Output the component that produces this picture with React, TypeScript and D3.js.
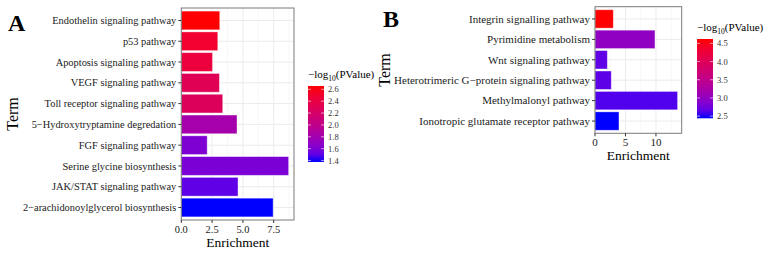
import React from "react";
import { scaleBand, scaleLinear, interpolateLab, range } from "d3";

// Panel A: PANTHER pathways, top to bottom
const termsA = [
  "Endothelin signaling pathway",
  "p53 pathway",
  "Apoptosis signaling pathway",
  "VEGF signaling pathway",
  "Toll receptor signaling pathway",
  "5\u2212Hydroxytryptamine degredation",
  "FGF signaling pathway",
  "Serine glycine biosynthesis",
  "JAK/STAT signaling pathway",
  "2\u2212arachidonoylglycerol biosynthesis",
];
const enrichA = [3.12, 2.96, 2.53, 3.09, 3.36, 4.52, 2.1, 8.71, 4.6, 7.45];
const logPA = [2.656, 2.5, 2.43, 2.31, 2.27, 1.82, 1.61, 1.59, 1.5, 1.376];
const xTicksA = [0, 2.5, 5, 7.5];
const legendTicksA = [1.4, 1.6, 1.8, 2.0, 2.2, 2.4, 2.6];

// Panel B
const termsB = [
  "Integrin signalling pathway",
  "Pyrimidine metabolism",
  "Wnt signaling pathway",
  "Heterotrimeric G\u2212protein signaling pathway",
  "Methylmalonyl pathway",
  "Ionotropic glutamate receptor pathway",
];
const enrichB = [3.0, 9.84, 2.02, 2.67, 13.55, 3.93];
const logPB = [4.62, 2.98, 2.66, 2.64, 2.59, 2.44];
const xTicksB = [0, 5, 10];
const legendTicksB = [2.5, 3.0, 3.5, 4.0, 4.5];

const FONT = "Liberation Serif";
const LOW = "#0000FF";
const HIGH = "#FF0000";

type PanelProps = {
  id: string;
  letter: string;
  terms: string[];
  enrich: number[];
  logP: number[];
  xTicks: number[];
  legendTicks: number[];
  tickFormat: (v: number) => string;
  labelSize: number;
  left: number;
  right: number;
  top: number;
  bottom: number;
  letterX: number;
  letterY: number;
  termX: number;
  legendX: number;
  legendTop: number;
  legendBottom: number;
};

const Panel = (p: PanelProps) => {
  const maxE = Math.max(...p.enrich);
  const x = scaleLinear().domain([0, maxE * 1.05]).range([p.left, p.right]);
  const y = scaleBand()
    .domain(p.terms)
    .range([p.top, p.bottom])
    .paddingInner(0.1)
    .paddingOuter(0.15);

  const lo = Math.min(...p.logP);
  const hi = Math.max(...p.logP);
  const interp = interpolateLab(LOW, HIGH);
  const color = (v: number) => interp((v - lo) / (hi - lo));

  const legendY = scaleLinear().domain([lo, hi]).range([p.legendBottom, p.legendTop]);
  const legendW = 16;

  const minorTicks = p.xTicks
    .map((t, i) => (i < p.xTicks.length - 1 ? (t + p.xTicks[i + 1]) / 2 : t + (t - p.xTicks[i - 1]) / 2))
    .filter((t) => x(t) < p.right);

  return (
    <g style={{ fontFamily: FONT }}>
      <text x={p.letterX} y={p.letterY} fontSize={24} fontWeight="bold" fill="#000">
        {p.letter}
      </text>

      {/* grid */}
      {minorTicks.map((t) => (
        <line key={"m" + t} x1={x(t)} x2={x(t)} y1={p.top} y2={p.bottom} stroke="#F4F4F4" strokeWidth={0.6} />
      ))}
      {p.xTicks.map((t) => (
        <line key={"g" + t} x1={x(t)} x2={x(t)} y1={p.top} y2={p.bottom} stroke="#EBEBEB" strokeWidth={1} />
      ))}
      {p.terms.map((t) => {
        const cy = (y(t) as number) + y.bandwidth() / 2;
        return <line key={"h" + t} x1={p.left} x2={p.right} y1={cy} y2={cy} stroke="#EBEBEB" strokeWidth={1} />;
      })}

      {/* bars */}
      {p.terms.map((t, i) => (
        <rect
          key={"b" + t}
          x={x(0)}
          y={y(t)}
          width={x(p.enrich[i]) - x(0)}
          height={y.bandwidth()}
          fill={color(p.logP[i])}
          stroke="#ffffff"
          strokeOpacity={0.45}
          strokeWidth={0.8}
        />
      ))}

      <rect x={p.left} y={p.top} width={p.right - p.left} height={p.bottom - p.top} fill="none" stroke="#7a7a7a" strokeWidth={1} />

      {/* y axis */}
      {p.terms.map((t) => {
        const cy = (y(t) as number) + y.bandwidth() / 2;
        return (
          <g key={"y" + t}>
            <line x1={p.left - 3} x2={p.left} y1={cy} y2={cy} stroke="#333" strokeWidth={1} />
            <text x={p.left - 5} y={cy} dy="0.35em" textAnchor="end" fontSize={p.labelSize} fill="#1a1a1a">
              {t}
            </text>
          </g>
        );
      })}

      {/* x axis */}
      {p.xTicks.map((t) => (
        <g key={"x" + t}>
          <line x1={x(t)} x2={x(t)} y1={p.bottom} y2={p.bottom + 3} stroke="#333" strokeWidth={1} />
          <text x={x(t)} y={p.bottom + 13} textAnchor="middle" fontSize={p.labelSize} fill="#1a1a1a">
            {p.tickFormat(t)}
          </text>
        </g>
      ))}
      <text x={(p.left + p.right) / 2} y={p.bottom + 27} textAnchor="middle" fontSize={13.5} fill="#000">
        Enrichment
      </text>
      <text
        transform={`translate(${p.termX},${(p.top + p.bottom) / 2}) rotate(-90)`}
        textAnchor="middle"
        fontSize={16}
        fill="#000"
      >
        Term
      </text>

      {/* colour bar legend */}
      <defs>
        <linearGradient id={p.id} x1="0" y1="1" x2="0" y2="0">
          {range(0, 1.0001, 0.1).map((s) => (
            <stop key={s} offset={s} stopColor={interp(s)} />
          ))}
        </linearGradient>
      </defs>
      <text x={p.legendX} y={p.legendTop - 8} fontSize={11} fill="#000">
        {"\u2212log"}
        <tspan fontSize={7.5} dy={3}>10</tspan>
        <tspan dy={-3}>(PValue)</tspan>
      </text>
      <rect x={p.legendX} y={p.legendTop} width={legendW} height={p.legendBottom - p.legendTop} fill={`url(#${p.id})`} />
      {p.legendTicks.map((t) => (
        <g key={"l" + t}>
          <line x1={p.legendX} x2={p.legendX + 3} y1={legendY(t)} y2={legendY(t)} stroke="#fff" strokeWidth={0.6} />
          <line x1={p.legendX + legendW - 3} x2={p.legendX + legendW} y1={legendY(t)} y2={legendY(t)} stroke="#fff" strokeWidth={0.6} />
          <text x={p.legendX + legendW + 4} y={legendY(t)} dy="0.35em" fontSize={8.5} fill="#333">
            {t.toFixed(1)}
          </text>
        </g>
      ))}
    </g>
  );
};

export default function App() {
  return (
    <div style={{ position: "absolute", left: 0, top: 0 }}>
      <svg width={770} height={254} style={{ display: "block", background: "#fff" }}>
        <Panel
          id="gradA"
          letter="A"
          terms={termsA}
          enrich={enrichA}
          logP={logPA}
          xTicks={xTicksA}
          legendTicks={legendTicksA}
          tickFormat={(v) => v.toFixed(1)}
          labelSize={10.4}
          left={181.3}
          right={294}
          top={8}
          bottom={220}
          letterX={8}
          letterY={31}
          termX={18}
          legendX={308}
          legendTop={86}
          legendBottom={162}
        />
        <Panel
          id="gradB"
          letter="B"
          terms={termsB}
          enrich={enrichB}
          logP={logPB}
          xTicks={xTicksB}
          legendTicks={legendTicksB}
          tickFormat={(v) => String(v)}
          labelSize={11}
          left={595}
          right={681.7}
          top={6.7}
          bottom={133.3}
          letterX={383}
          letterY={27}
          termX={390}
          legendX={697}
          legendTop={39}
          legendBottom={118.3}
        />
      </svg>
    </div>
  );
}
